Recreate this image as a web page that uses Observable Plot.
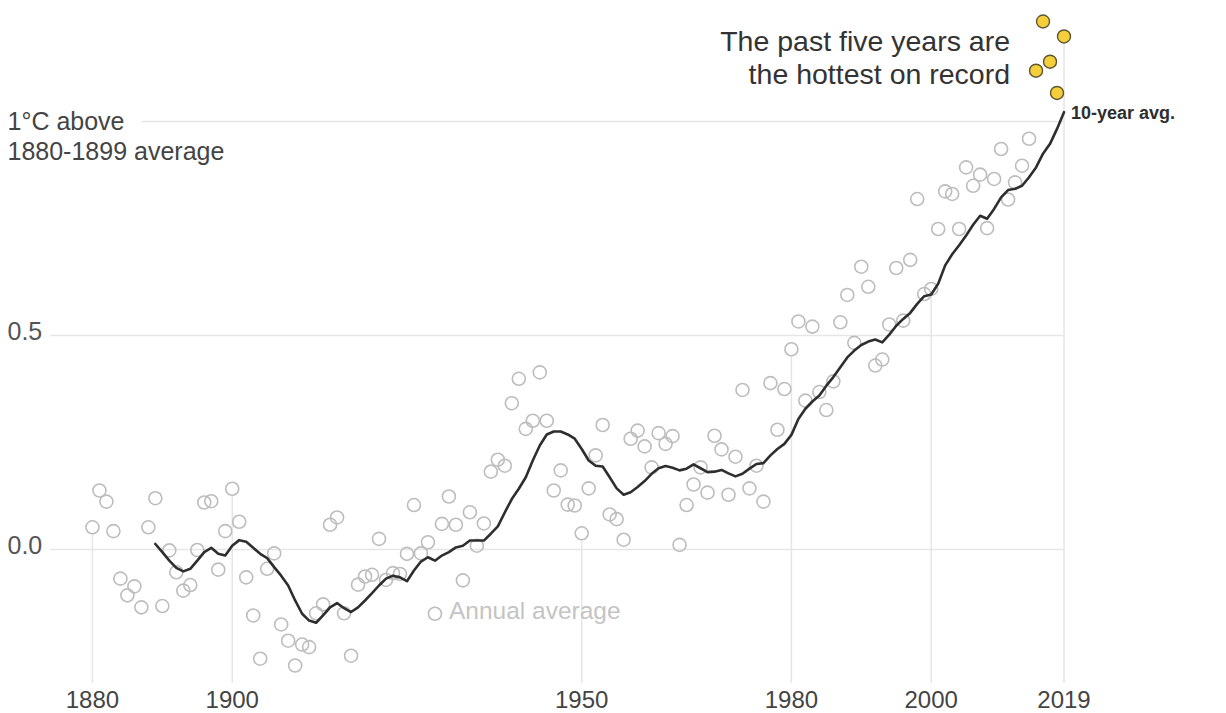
<!DOCTYPE html>
<html><head><meta charset="utf-8">
<script src="https://cdn.jsdelivr.net/npm/d3@7"></script>
<script src="https://cdn.jsdelivr.net/npm/@observablehq/plot@0.6"></script>
<style>
html,body{margin:0;padding:0;background:#fff;}
#chart svg{display:block;}
</style></head><body><div id="chart"></div>
<script>
// Annual temperature anomaly (°C above 1880-1899 average), 1880..2019
const annualStart = 1880;
const annualValues = [
  0.052, 0.138, 0.112, 0.043, -0.068, -0.107, -0.086, -0.135, 0.052, 0.120,
  -0.132, -0.002, -0.053, -0.096, -0.083, -0.001, 0.110, 0.113, -0.047, 0.043,
  0.142, 0.065, -0.065, -0.154, -0.255, -0.045, -0.009, -0.175, -0.213, -0.271,
  -0.222, -0.228, -0.149, -0.128, 0.058, 0.075, -0.149, -0.248, -0.082, -0.063,
  -0.059, 0.025, -0.071, -0.055, -0.057, -0.010, 0.104, -0.009, 0.017, -0.150,
  0.060, 0.124, 0.058, -0.072, 0.087, 0.009, 0.061, 0.182, 0.210, 0.196,
  0.342, 0.399, 0.282, 0.301, 0.414, 0.301, 0.138, 0.185, 0.105, 0.103,
  0.038, 0.143, 0.220, 0.291, 0.082, 0.071, 0.023, 0.259, 0.278, 0.241,
  0.192, 0.272, 0.247, 0.265, 0.011, 0.104, 0.152, 0.192, 0.133, 0.266,
  0.234, 0.128, 0.217, 0.373, 0.143, 0.196, 0.112, 0.389, 0.280, 0.375,
  0.468, 0.533, 0.348, 0.521, 0.368, 0.326, 0.393, 0.531, 0.595, 0.483,
  0.661, 0.614, 0.430, 0.444, 0.526, 0.658, 0.535, 0.677, 0.819, 0.597,
  0.609, 0.749, 0.837, 0.831, 0.749, 0.893, 0.850, 0.876, 0.751, 0.866,
  0.936, 0.818, 0.858, 0.897, 0.960, 1.119, 1.234, 1.140, 1.067, 1.199
];
// 10-year average line, 1889..2019
const avgStart = 1889;
const avgValues = [
  0.013, -0.006, -0.026, -0.043, -0.051, -0.045, -0.026, -0.006, 0.004, -0.010,
  -0.014, 0.009, 0.022, 0.018, 0.004, -0.010, -0.020, -0.041, -0.061, -0.084,
  -0.119, -0.150, -0.166, -0.171, -0.154, -0.135, -0.125, -0.137, -0.146, -0.135,
  -0.119, -0.102, -0.084, -0.068, -0.061, -0.065, -0.074, -0.049, -0.028, -0.018,
  -0.026, -0.014, -0.006, 0.005, 0.009, 0.021, 0.021, 0.021, 0.037, 0.054,
  0.087, 0.118, 0.142, 0.169, 0.208, 0.243, 0.269, 0.276, 0.276, 0.269,
  0.259, 0.235, 0.208, 0.196, 0.194, 0.169, 0.143, 0.128, 0.134, 0.146,
  0.160, 0.177, 0.190, 0.195, 0.191, 0.185, 0.189, 0.199, 0.190, 0.181,
  0.182, 0.186, 0.178, 0.171, 0.177, 0.189, 0.200, 0.202, 0.220, 0.235,
  0.247, 0.268, 0.305, 0.329, 0.346, 0.360, 0.383, 0.403, 0.426, 0.449,
  0.465, 0.478, 0.486, 0.491, 0.484, 0.502, 0.523, 0.539, 0.553, 0.574,
  0.592, 0.596, 0.621, 0.664, 0.690, 0.711, 0.734, 0.759, 0.780, 0.773,
  0.796, 0.823, 0.840, 0.843, 0.850, 0.870, 0.893, 0.925, 0.948, 0.983,
  1.022
];
const xTicks = [1880, 1900, 1950, 1980, 2000, 2019];
const yTicks = [0, 0.5];
const recordYears = [2015, 2016, 2017, 2018, 2019];
const labelTop = "1°C above\n1880-1899 average";
const labelRecord = "The past five years are\nthe hottest on record";
const labelAvg = "10-year avg.";
const labelAnnual = "Annual average";
const legendYear = 1929;

const annual = annualValues.map((v, i) => ({year: annualStart + i, value: v}));
const avg = avgValues.map((v, i) => ({year: avgStart + i, value: v}));
const gray = annual.filter(d => !recordYears.includes(d.year));
const hot = annual.filter(d => recordYears.includes(d.year));
const valueOf = new Map(annual.map(d => [d.year, d.value]));
const yMin = -0.313, yMax = 1.283;
const font = "'Liberation Sans', Arial, sans-serif";
const grid = "#e6e6e6";

const chart = Plot.plot({
  width: 1226, height: 713,
  marginLeft: 50, marginRight: 162.5, marginTop: 0, marginBottom: 30,
  x: {domain: [1874, 2019]},
  y: {domain: [yMin, yMax]},
  style: {fontFamily: font, background: "#fff", overflow: "visible"},
  marks: [
    Plot.ruleY(yTicks, {stroke: grid, strokeWidth: 1.5}),
    Plot.ruleY([1], {x1: 1887.1, x2: 2019, stroke: grid, strokeWidth: 1.5}),
    Plot.ruleX(xTicks, {x: d => d, y1: d => valueOf.get(d), y2: yMin, insetTop: 6.5, stroke: grid, strokeWidth: 1.5}),
    Plot.axisX(xTicks, {tickSize: 0, tickPadding: 7, tickFormat: d => String(d), fontSize: 24, fill: "#444", label: null}),
    Plot.axisY(yTicks, {tickSize: 0, tickPadding: 0, textAnchor: "start", dx: -43, dy: -4, tickFormat: d3.format(".1f"), fontSize: 25, fill: "#555", label: null}),
    Plot.dot(gray, {x: "year", y: "value", r: 6.5, stroke: "#bdbdbd", strokeWidth: 1.6, fill: "none"}),
    Plot.line(avg, {x: "year", y: "value", stroke: "#2e2e2e", strokeWidth: 2.6}),
    Plot.dot(hot, {x: "year", y: "value", r: 6.5, fill: "#f4cf3b", stroke: "#5e5632", strokeWidth: 1.4}),
    Plot.text([labelTop], {x: () => 1874, y: () => 1, text: d => d, textAnchor: "start", lineAnchor: "top", dx: -43, dy: -13, fontSize: 25, lineHeight: 1.2, fill: "#444"}),
    Plot.text([labelRecord], {x: () => 2015, y: () => 1.151, text: d => d, textAnchor: "end", lineAnchor: "middle", dx: -26, fontSize: 28.5, lineHeight: 1.16, fill: "#333"}),
    Plot.text(avg.slice(-1), {x: "year", y: "value", text: () => labelAvg, textAnchor: "start", dx: 7, dy: 1, fontSize: 18, fontWeight: "bold", fill: "#2e2e2e"}),
    Plot.text(annual.filter(d => d.year === legendYear), {x: "year", y: "value", text: () => labelAnnual, textAnchor: "start", dx: 14, dy: -3, fontSize: 24.5, fill: "#c4c4c4"})
  ]
});
document.getElementById("chart").append(chart);
</script>
</body></html>
